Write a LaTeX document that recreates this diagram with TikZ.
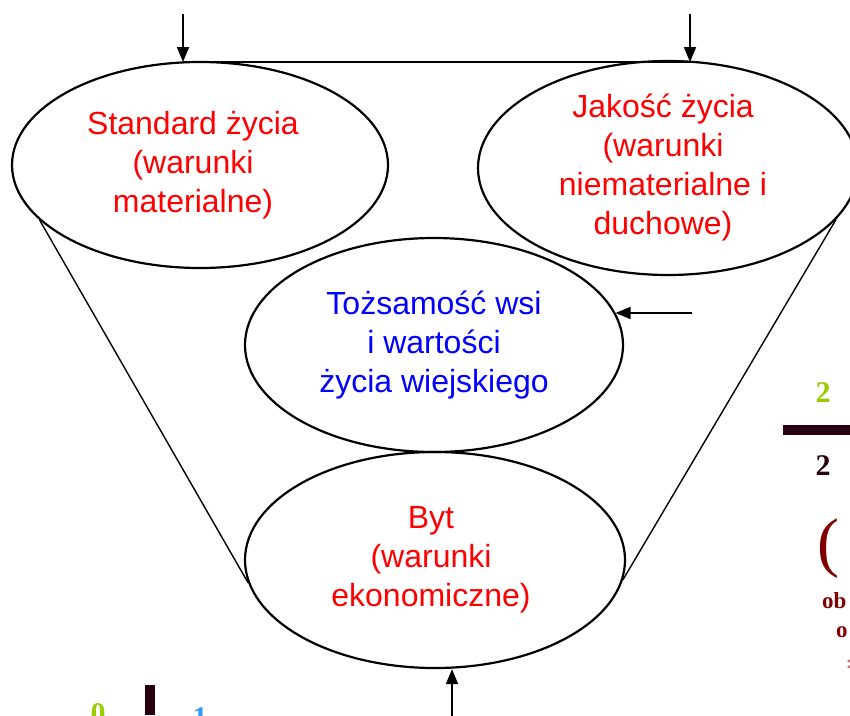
\documentclass[tikz,border=0pt]{standalone}
\usepackage{fontspec}
\setmainfont{Liberation Sans}
\newfontfamily\fragfont{Liberation Serif}
\usetikzlibrary{positioning, shapes.geometric, arrows.meta}

\definecolor{fragGreen}{RGB}{153,204,0}
\definecolor{fragDark}{RGB}{40,0,16}
\definecolor{fragRed}{RGB}{128,0,0}
\definecolor{fragBlue}{RGB}{51,153,255}

\tikzset{
  oval/.style={draw, ellipse, line width=2.2pt, inner sep=0pt},
  caption/.style={align=center, font=\fontsize{32}{39}\selectfont},
  feed/.style={-{Triangle[length=15pt,width=12pt]}, line width=1.8pt},
  frag/.style={font=\fragfont\bfseries\fontsize{30}{30}\selectfont, inner sep=0pt},
}

\begin{document}
\begin{tikzpicture}[x=1pt, y=-1pt]
    \clip (0,0) rectangle (850,715);

    % the four ellipses
    \node [oval, minimum width=376pt, minimum height=206pt] (standard) at (200,165) {};
    \node [oval, minimum width=380pt, minimum height=214pt] (jakosc) at (668,168) {};
    \node [oval, minimum width=378pt, minimum height=214pt] (tozsamosc) at (434,345) {};
    \node [oval, minimum width=380pt, minimum height=216pt] (byt) at (435,560) {};

    \node [caption, text=red] at ([xshift=-7pt]standard.center) {Standard życia\\(warunki\\materialne)};
    \node [caption, text=red] at ([xshift=-5pt]jakosc.center) {Jakość życia\\(warunki\\niematerialne i\\duchowe)};
    \node [caption, text=blue] at (tozsamosc) {Tożsamość wsi\\i wartości\\życia wiejskiego};
    \node [caption, text=red] at ([xshift=-4pt]byt.center) {Byt\\(warunki\\ekonomiczne)};

    % funnel
    \draw [line width=1.4pt] (standard.199) -- (byt.187);
    \draw [line width=1.4pt] (jakosc.343) -- (byt.354);

    % inputs
    \coordinate (topL) at (183,62);
    \coordinate (topR) at (690,62);
    \coordinate (inL) at (183,14);
    \coordinate (inR) at (690,14);
    \coordinate (inM) at (692,313);
    \coordinate (inB) at (452,725);
    \draw [line width=2.2pt] (topL) -- (topR);
    \draw [feed] (inL) -- (topL);
    \draw [feed] (inR) -- (topR);
    \draw [feed] (inM) -- (tozsamosc.10);
    \draw [feed] (inB) -- (inB |- byt.south);

    % cut-off pieces at the edges
    \node [frag, text=fragGreen] (g2) at (823,393) {2};
    \fill [fragDark] (783,425) rectangle (850,435);
    \node [frag, text=fragDark] (d2) at (823,466) {2};
    \node [frag, text=fragRed, font=\fragfont\fontsize{66}{66}\selectfont] (paren) at (828,549) {(};
    \node [frag, text=fragRed, font=\fragfont\bfseries\fontsize{23}{23}\selectfont, anchor=west] (ob) at (822,601) {ob};
    \node [frag, text=fragRed, font=\fragfont\bfseries\fontsize{23}{23}\selectfont, anchor=west] (o) at (836,632) {o};
    \node [frag, text=fragRed!50, font=\fragfont\bfseries\fontsize{18}{18}\selectfont, anchor=west] (dots) at (846,664) {:};
    \node [frag, text=fragGreen, anchor=north] (g0) at (98,703) {0};
    \fill [fragDark] (145,685) rectangle (155,715);
    \node [frag, text=fragBlue, anchor=north] (b1) at (200,707) {1};
\end{tikzpicture}
\end{document}
